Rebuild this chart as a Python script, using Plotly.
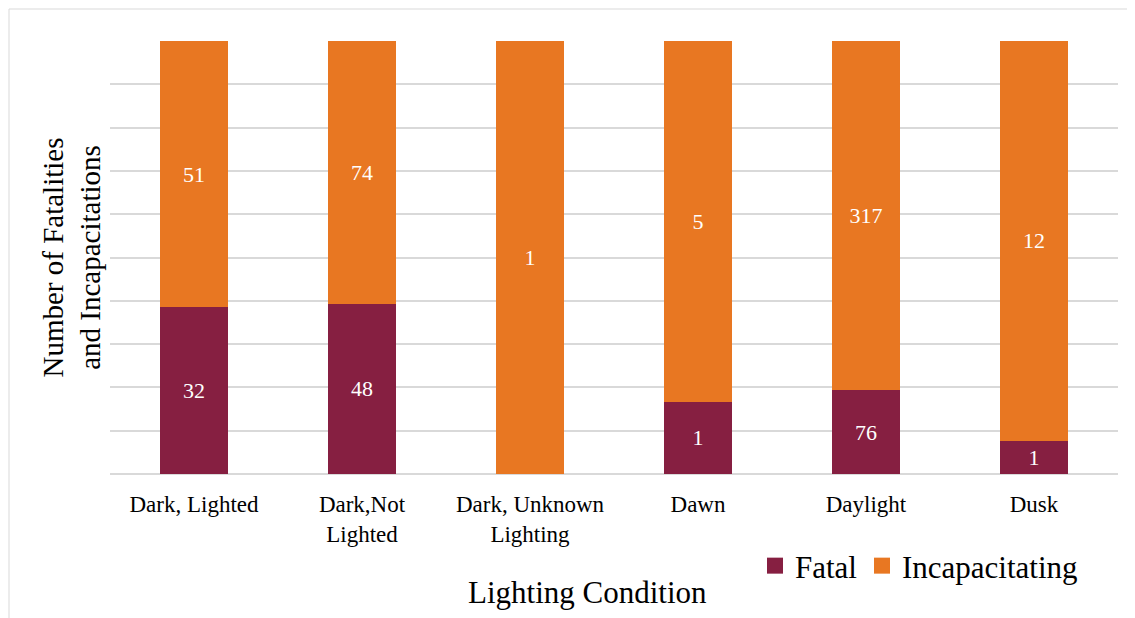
import plotly.graph_objects as go

categories = ["Dark, Lighted", "Dark,Not<br>Lighted", "Dark, Unknown<br>Lighting", "Dawn", "Daylight", "Dusk"]
fatal = [32, 48, 0, 1, 76, 1]
incap = [51, 74, 1, 5, 317, 12]
series_names = ["Fatal", "Incapacitating"]
series_colors = ["#861F41", "#E87722"]

totals = [f + i for f, i in zip(fatal, incap)]
fatal_pct = [100 * f / t for f, t in zip(fatal, totals)]
incap_pct = [100 * i / t for i, t in zip(incap, totals)]

FONT = "Liberation Serif"
OFF = 8  # page offset of the figure in the browser
W, H = 1135 - OFF, 618 - OFF
SL, SR, ST, SB = 110, 1118, 41, 474
L, T = SL - OFF, ST - OFF
R = W - (SR - OFF)
B = H - (SB - OFF)
pw, ph = SR - SL, SB - ST

def px(x):
    return (x - SL) / pw

def py(y):
    return (SB - y) / ph

fig = go.Figure()
for vals, pct, name, color in [(fatal, fatal_pct, series_names[0], series_colors[0]),
                               (incap, incap_pct, series_names[1], series_colors[1])]:
    fig.add_trace(go.Bar(
        x=categories, y=pct, name=name, showlegend=False,
        marker=dict(color=color, line=dict(width=0)),
        text=[str(v) if v else "" for v in vals], textposition="inside",
        insidetextanchor="middle", textfont=dict(color="white", size=22, family=FONT),
        hoverinfo="skip",
    ))
# legend entries with larger square swatches
for name, color in zip(series_names, series_colors):
    fig.add_trace(go.Scatter(
        x=[None], y=[None], mode="markers", name=name,
        marker=dict(symbol="square", size=16, color=color),
    ))

fig.update_layout(
    barmode="stack", bargap=0.6,
    width=W, height=H,
    margin=dict(l=L, r=R, t=T, b=B),
    paper_bgcolor="white", plot_bgcolor="white",
    font=dict(family=FONT, color="black"),
    uniformtext=dict(minsize=22, mode="show"),
    showlegend=True,
    legend=dict(orientation="h", x=px(1083), xanchor="right", y=py(566), yanchor="middle",
                font=dict(size=31, family=FONT), traceorder="normal", itemwidth=30),
    xaxis=dict(showgrid=False, showline=False, ticks="outside", ticklen=9, tickcolor="white",
               tickfont=dict(size=23, family=FONT), fixedrange=True),
    yaxis=dict(range=[0, 100], dtick=10, showticklabels=False, gridcolor="#d9d9d9", gridwidth=1.5,
               zeroline=True, zerolinecolor="#d9d9d9", zerolinewidth=1.5, showline=False, fixedrange=True),
    annotations=[
        dict(text="Lighting Condition", x=px(587), y=py(592), xref="paper", yref="paper",
             showarrow=False, font=dict(size=31, family=FONT), xanchor="center", yanchor="middle"),
        dict(text="Number of Fatalities<br>and Incapacitations", x=px(71), y=0.5, xref="paper", yref="paper",
             showarrow=False, textangle=-90, font=dict(size=29, family=FONT), xanchor="center", yanchor="middle"),
    ],
    shapes=[
        dict(type="rect", xref="paper", yref="paper", x0=px(9), x1=px(1145), y0=py(628), y1=py(9),
             line=dict(color="#d9d9d9", width=1), fillcolor="rgba(0,0,0,0)", layer="below"),
    ],
)

fig.write_html("out.html")
